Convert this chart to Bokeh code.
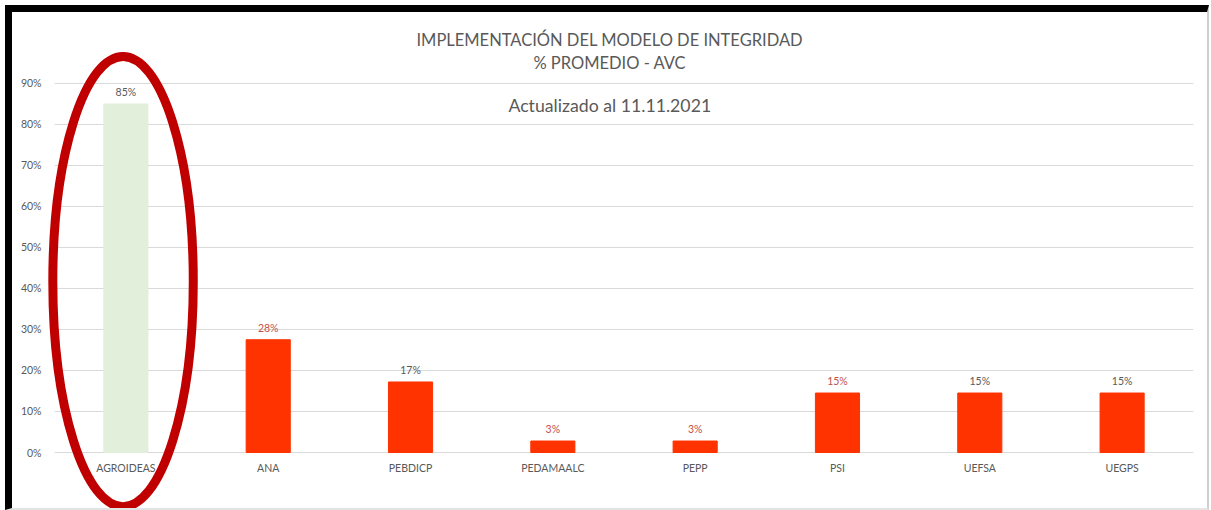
from bokeh.plotting import figure
from bokeh.models import ColumnDataSource, Label, LabelSet, FixedTicker, FactorRange, Range1d
from bokeh.core.properties import value
from bokeh.embed import file_html
from bokeh.resources import INLINE

# ---- data ----
categories = ["AGROIDEAS", "ANA", "PEBDICP", "PEDAMAALC", "PEPP", "PSI", "UEFSA", "UEGPS"]
values = [85, 27.5, 17.2, 2.8, 2.8, 14.5, 14.5, 14.5]
value_labels = ["85%", "28%", "17%", "3%", "3%", "15%", "15%", "15%"]
bar_colors = ["#E2EFDA", "#FF3300", "#FF3300", "#FF3300", "#FF3300", "#FF3300", "#FF3300", "#FF3300"]
label_colors = ["#595959", "#C0504D", "#595959", "#C0504D", "#C0504D", "#C0504D", "#595959", "#595959"]
y_ticks = [0, 10, 20, 30, 40, 50, 60, 70, 80, 90]
y_tick_labels = ["0%", "10%", "20%", "30%", "40%", "50%", "60%", "70%", "80%", "90%"]
title_lines = ["IMPLEMENTACIÓN DEL MODELO DE INTEGRIDAD", "% PROMEDIO - AVC"]
subtitle = "Actualizado al 11.11.2021"
highlight = "AGROIDEAS"

FONT = "Lato"
GRAY = "#595959"

src = ColumnDataSource(dict(cat=categories, val=values, lab=value_labels,
                            color=bar_colors, lcolor=label_colors,
                            base=[0] * len(categories)))
grid_src = ColumnDataSource(dict(y=y_ticks, x0=[0] * len(y_ticks),
                                 x1=[len(categories)] * len(y_ticks)))

x_range = FactorRange(factors=categories, range_padding=0.1, range_padding_units="absolute")
p = figure(x_range=x_range, y_range=Range1d(-15.85, 107.3), width=1204, height=505,
           output_backend="svg", toolbar_location=None,
           min_border_left=28, min_border_right=9, min_border_top=0, min_border_bottom=0)
p.styles = {"margin": "5px 0 0 5px", "border-top": "7px solid #000",
            "border-left": "7px solid #000", "border-right": "2px solid #cfcfcf",
            "border-bottom": "2px solid #e3e3e3"}
p.outline_line_color = None
p.background_fill_color = "white"
p.border_fill_color = "white"
p.xaxis.visible = False
p.xgrid.grid_line_color = None
p.ygrid.grid_line_color = None

# horizontal gridlines across the category band
p.segment(x0="x0", x1="x1", y0="y", y1="y", source=grid_src,
          line_color="#D9D9D9", line_width=1)

p.vbar(x="cat", top="val", width=0.31, color="color", source=src)

p.add_layout(LabelSet(x="cat", y="val", text="lab", source=src, text_align="center",
                      text_baseline="bottom", y_offset=6, text_color="lcolor",
                      text_font=value(FONT), text_font_size="10.5px"))
# category labels under the baseline
p.add_layout(LabelSet(x="cat", y="base", text="cat", source=src, text_align="center",
                      text_baseline="middle", y_offset=-15, text_color=GRAY,
                      text_font=value(FONT), text_font_size="10.5px"))

# y axis
ya = p.yaxis[0]
ya.ticker = FixedTicker(ticks=y_ticks)
ya.major_label_overrides = {t: l for t, l in zip(y_ticks, y_tick_labels)}
ya.axis_line_color = None
ya.major_tick_line_color = None
ya.minor_tick_line_color = None
ya.major_tick_out = 0
ya.major_tick_in = 0
ya.major_label_text_font = FONT
ya.major_label_text_font_size = "10.5px"
ya.major_label_text_color = GRAY
ya.major_label_standoff = -1

# titles
x_mid = 3.9
p.add_layout(Label(x=x_mid, y=100.5, text=title_lines[0], text_align="center",
                   text_baseline="middle", text_font=FONT, text_font_size="16.5px",
                   text_color=GRAY))
p.add_layout(Label(x=x_mid, y=95.1, text=title_lines[1], text_align="center",
                   text_baseline="middle", text_font=FONT, text_font_size="16.5px",
                   text_color=GRAY))
p.add_layout(Label(x=x_mid, y=84.6, text=subtitle, text_align="center",
                   text_baseline="middle", text_font=FONT, text_font_size="17.7px",
                   text_color=GRAY))

# highlight ellipse around the first category
hx = categories.index(highlight) + 0.48
p.ellipse(x=[hx], y=[41.7], width=0.987, height=109.8, fill_alpha=0,
          line_color="#C00000", line_width=9)

open("out.html", "w").write(file_html(p, INLINE))
